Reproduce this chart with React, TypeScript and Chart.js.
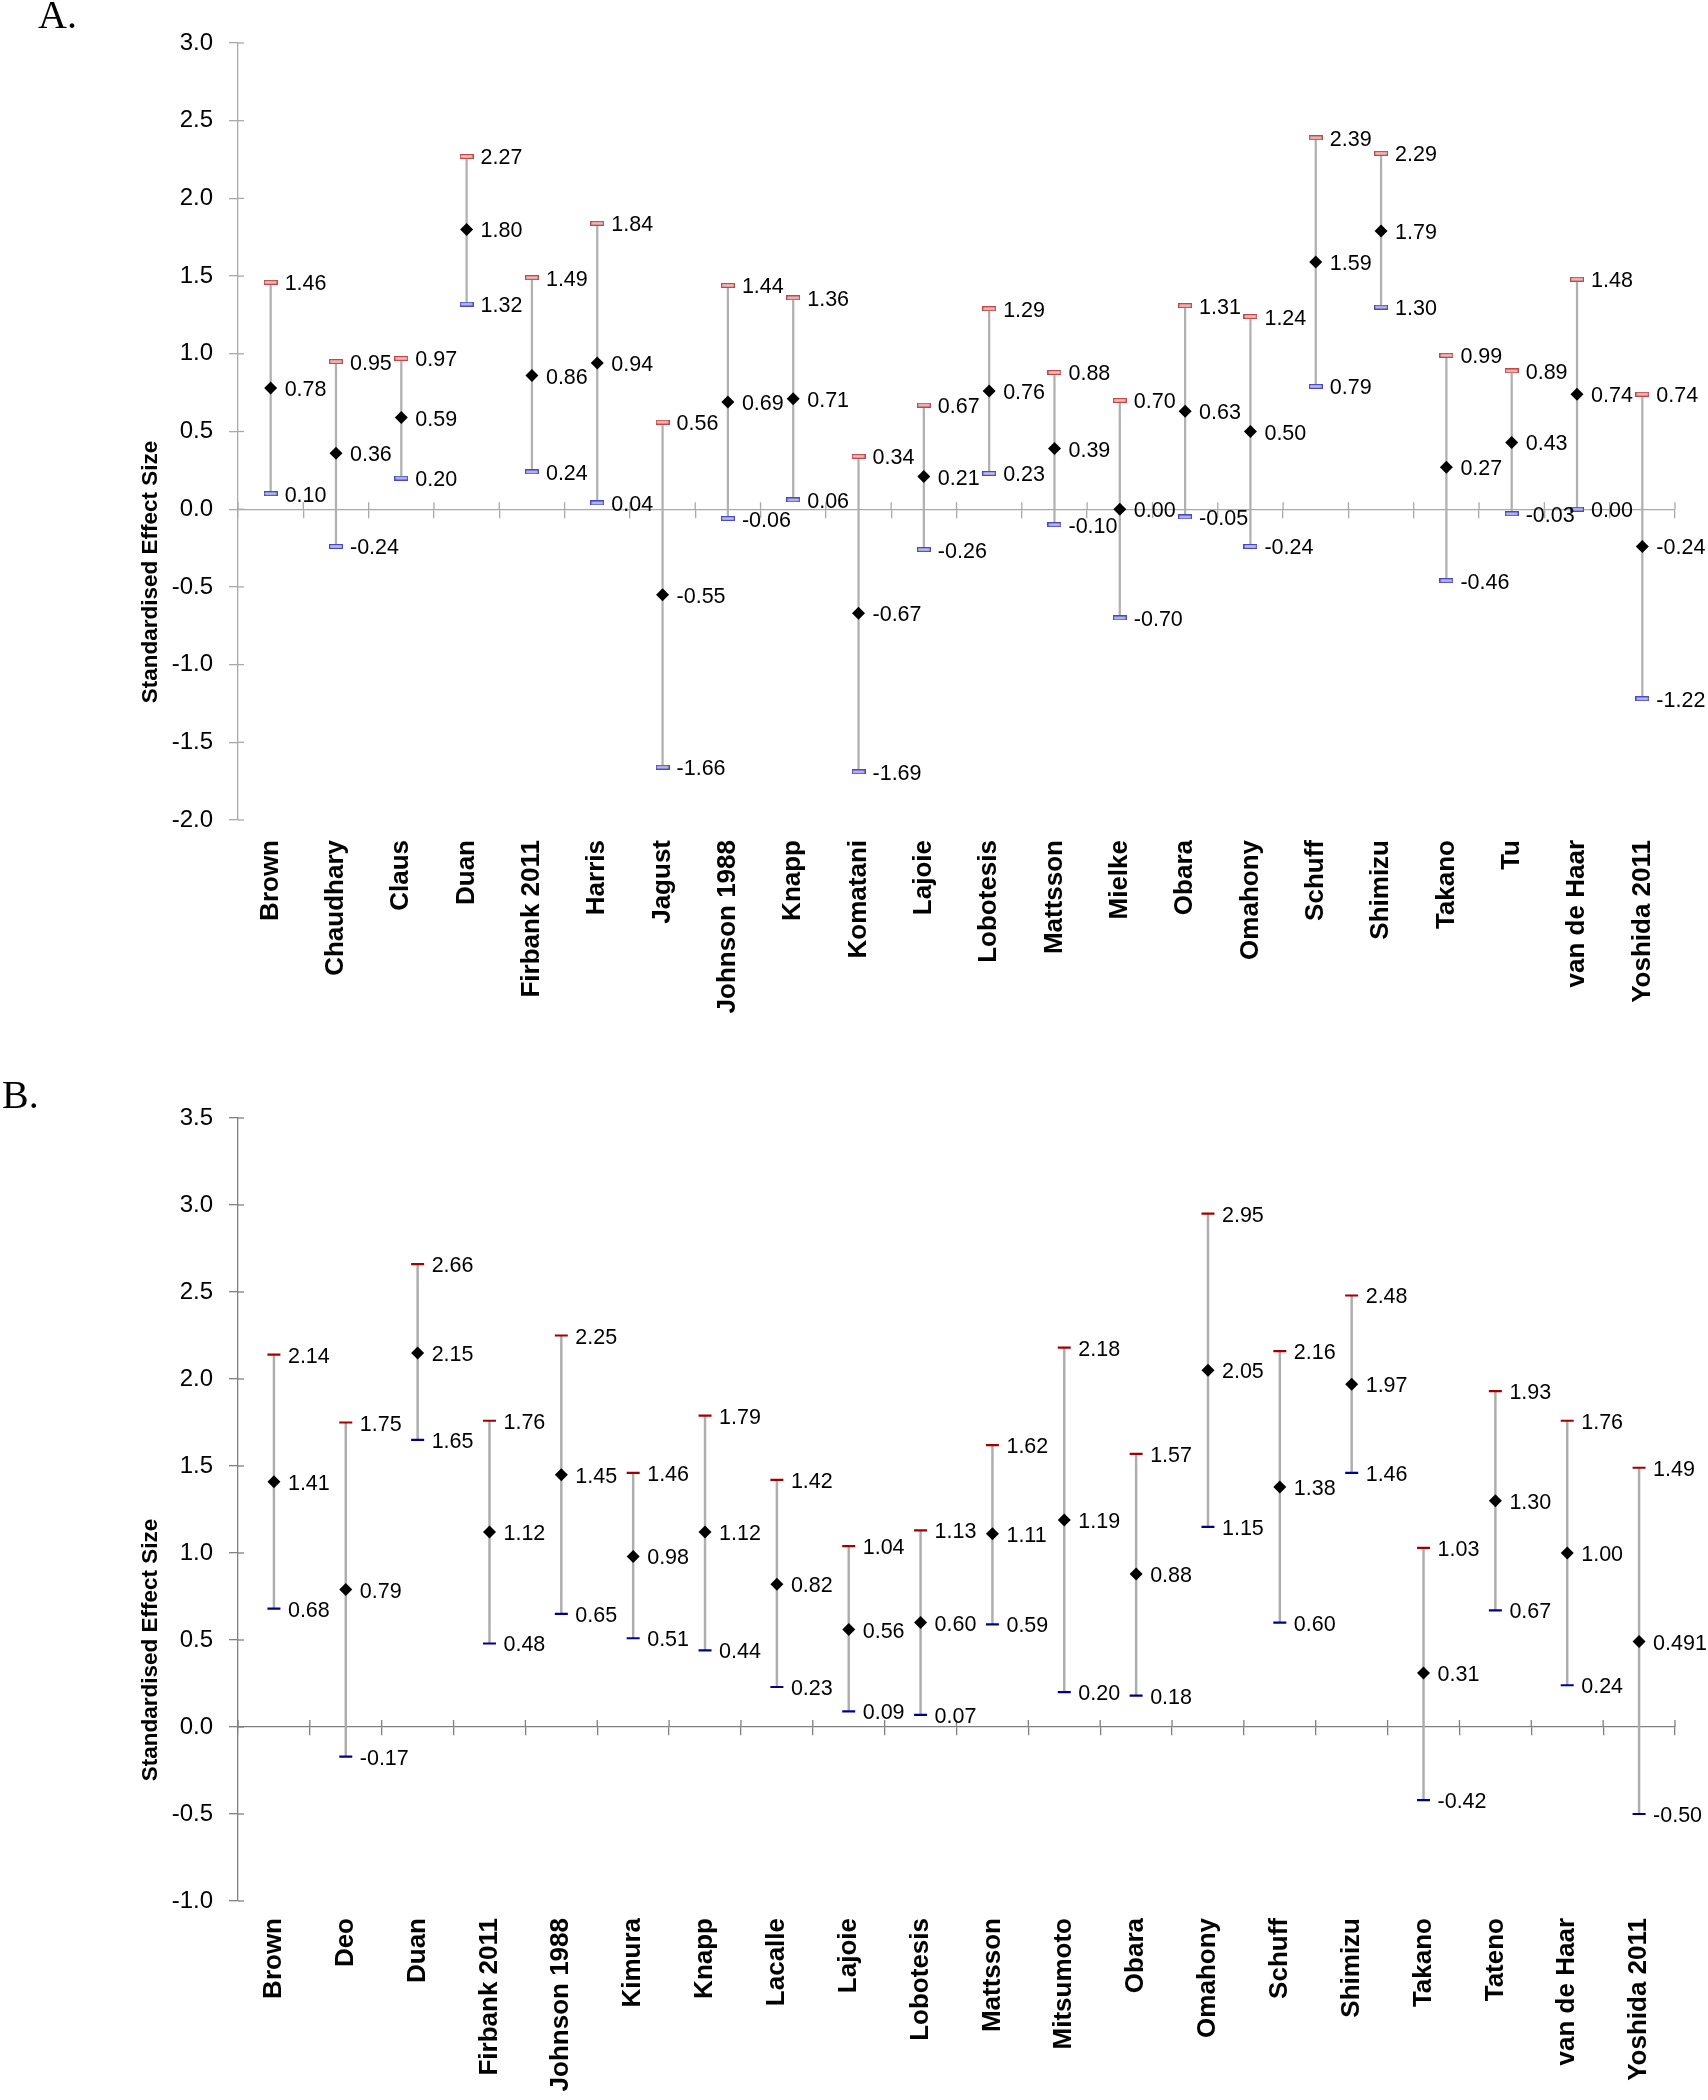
import React, { useEffect, useRef } from 'react';
import { Chart, registerables } from 'chart.js';

Chart.register(...registerables);

// ---------- Data: panel A ----------
const studiesA = ['Brown', 'Chaudhary', 'Claus', 'Duan', 'Firbank 2011', 'Harris', 'Jagust', 'Johnson 1988', 'Knapp', 'Komatani', 'Lajoie', 'Lobotesis', 'Mattsson', 'Mielke', 'Obara', 'Omahony', 'Schuff', 'Shimizu', 'Takano', 'Tu', 'van de Haar', 'Yoshida 2011'];
const upperA = [1.46, 0.95, 0.97, 2.27, 1.49, 1.84, 0.56, 1.44, 1.36, 0.34, 0.67, 1.29, 0.88, 0.70, 1.31, 1.24, 2.39, 2.29, 0.99, 0.89, 1.48, 0.74];
const meanA = [0.78, 0.36, 0.59, 1.80, 0.86, 0.94, -0.55, 0.69, 0.71, -0.67, 0.21, 0.76, 0.39, 0.00, 0.63, 0.50, 1.59, 1.79, 0.27, 0.43, 0.74, -0.24];
const lowerA = [0.10, -0.24, 0.20, 1.32, 0.24, 0.04, -1.66, -0.06, 0.06, -1.69, -0.26, 0.23, -0.10, -0.70, -0.05, -0.24, 0.79, 1.30, -0.46, -0.03, 0.00, -1.22];
const yRangeA = [-2.0, 3.0];

// ---------- Data: panel B ----------
const studiesB = ['Brown', 'Deo', 'Duan', 'Firbank 2011', 'Johnson 1988', 'Kimura', 'Knapp', 'Lacalle', 'Lajoie', 'Lobotesis', 'Mattsson', 'Mitsumoto', 'Obara', 'Omahony', 'Schuff', 'Shimizu', 'Takano', 'Tateno', 'van de Haar', 'Yoshida 2011'];
const upperB = [2.14, 1.75, 2.66, 1.76, 2.25, 1.46, 1.79, 1.42, 1.04, 1.13, 1.62, 2.18, 1.57, 2.95, 2.16, 2.48, 1.03, 1.93, 1.76, 1.49];
const meanB = [1.41, 0.79, 2.15, 1.12, 1.45, 0.98, 1.12, 0.82, 0.56, 0.60, 1.11, 1.19, 0.88, 2.05, 1.38, 1.97, 0.31, 1.30, 1.00, 0.491];
const lowerB = [0.68, -0.17, 1.65, 0.48, 0.65, 0.51, 0.44, 0.23, 0.09, 0.07, 0.59, 0.20, 0.18, 1.15, 0.60, 1.46, -0.42, 0.67, 0.24, -0.50];
const yRangeB = [-1.0, 3.5];

const yStep = 0.5;
const yTitle = 'Standardised Effect Size';

const SANS = "'Liberation Sans', Arial, Helvetica, sans-serif";

function fmt(v: number): string {
  const s = v.toFixed(2);
  return Math.abs(Number(s) - v) < 1e-9 ? s : String(v);
}

function makeBoxMarker(stroke: string, fill: string): HTMLCanvasElement {
  const c = document.createElement('canvas');
  c.width = 14;
  c.height = 5;
  const g = c.getContext('2d')!;
  g.fillStyle = fill;
  g.fillRect(0, 0, 14, 5);
  g.strokeStyle = stroke;
  g.lineWidth = 1.2;
  g.strokeRect(0.6, 0.6, 12.8, 3.8);
  return c;
}

const extrasPlugin = {
  id: 'extras',
  beforeDatasetsDraw(chart: any, _args: any, opts: any) {
    const ctx = chart.ctx;
    const area = chart.chartArea;
    const ys = chart.scales.y;
    const xs = chart.scales.x;
    ctx.save();
    ctx.strokeStyle = opts.axisColor;
    ctx.lineWidth = 1.3;
    // y ticks crossing to the right of the axis
    ys.ticks.forEach((t: any) => {
      const py = ys.getPixelForValue(t.value);
      ctx.beginPath();
      ctx.moveTo(area.left, py);
      ctx.lineTo(area.left + 6, py);
      ctx.stroke();
    });
    // category boundary ticks crossing above the zero line
    const zy = ys.getPixelForValue(0);
    const n = chart.data.labels.length;
    for (let i = 0; i <= n; i++) {
      const px = xs.getPixelForValue(i - 0.5);
      ctx.beginPath();
      ctx.moveTo(px, zy);
      ctx.lineTo(px, zy - 7);
      ctx.stroke();
    }
    ctx.restore();
  },
  afterDatasetsDraw(chart: any, _args: any, opts: any) {
    const ctx = chart.ctx;
    ctx.save();
    ctx.fillStyle = '#000';
    ctx.font = `21.5px ${SANS}`;
    ctx.textAlign = 'left';
    ctx.textBaseline = 'alphabetic';
    chart.data.datasets.forEach((ds: any, di: number) => {
      if (!ds.valueLabels) return;
      const meta = chart.getDatasetMeta(di);
      meta.data.forEach((el: any, i: number) => {
        ctx.fillText(fmt(ds.data[i]), el.x + 14, el.y + 8);
      });
    });
    // y axis title
    ctx.translate(opts.titleX, opts.titleY);
    ctx.rotate(-Math.PI / 2);
    ctx.font = `bold 22.5px ${SANS}`;
    ctx.textAlign = 'center';
    ctx.textBaseline = 'middle';
    ctx.fillText(yTitle, 0, 0);
    ctx.restore();
  },
};

interface PanelProps {
  labels: string[];
  upper: number[];
  mean: number[];
  lower: number[];
  yRange: number[];
  width: number;
  height: number;
  padTop: number;
  xAxisH: number;
  xPad: number;
  axisColor: string;
  ciColor: string;
  ciWidth: number;
  boxMarkers: boolean;
  titleY: number;
}

function Panel(p: PanelProps) {
  const ref = useRef<HTMLCanvasElement | null>(null);
  useEffect(() => {
    if (!ref.current) return;
    const upStyle: any = p.boxMarkers ? makeBoxMarker('#c04848', '#efbcbc') : 'line';
    const loStyle: any = p.boxMarkers ? makeBoxMarker('#4848c0', '#bcbcef') : 'line';
    const chart = new Chart(ref.current, {
      type: 'bar',
      data: {
        labels: p.labels,
        datasets: [
          {
            type: 'line',
            label: 'Effect size',
            data: p.mean,
            xAxisID: 'x',
            yAxisID: 'y',
            showLine: false,
            pointStyle: 'rectRot',
            pointRadius: 6.5,
            pointBackgroundColor: '#000',
            pointBorderColor: '#000',
            pointBorderWidth: 0,
            order: 0,
            valueLabels: true,
          } as any,
          {
            type: 'line',
            label: 'Upper CI',
            data: p.upper,
            xAxisID: 'x',
            yAxisID: 'y',
            showLine: false,
            pointStyle: upStyle,
            pointRadius: 6.5,
            pointBackgroundColor: '#a00000',
            pointBorderColor: '#a00000',
            pointBorderWidth: 2.2,
            order: 1,
            valueLabels: true,
          } as any,
          {
            type: 'line',
            label: 'Lower CI',
            data: p.lower,
            xAxisID: 'x',
            yAxisID: 'y',
            showLine: false,
            pointStyle: loStyle,
            pointRadius: 6.5,
            pointBackgroundColor: '#000090',
            pointBorderColor: '#000090',
            pointBorderWidth: 2.2,
            order: 1,
            valueLabels: true,
          } as any,
          {
            type: 'bar',
            label: 'CI',
            data: p.upper.map((u, i) => [p.lower[i], u]) as any,
            xAxisID: 'x',
            yAxisID: 'y',
            backgroundColor: p.ciColor,
            barThickness: p.ciWidth,
            borderWidth: 0,
            order: 5,
          } as any,
        ],
      },
      options: {
        responsive: false,
        animation: false,
        layout: { padding: { top: p.padTop, right: 33, left: 0, bottom: 0 } },
        plugins: {
          legend: { display: false },
          tooltip: { enabled: false },
          extras: { axisColor: p.axisColor, titleX: 151, titleY: p.titleY },
        } as any,
        scales: {
          x: {
            type: 'category',
            offset: true,
            grid: { display: false },
            border: { display: false },
            ticks: {
              autoSkip: false,
              maxRotation: 90,
              minRotation: 90,
              padding: p.xPad,
              color: '#000',
              font: { family: SANS, size: 26, weight: 'bold' },
            },
            afterFit: (s: any) => {
              s.height = p.xAxisH;
            },
          },
          x0: {
            type: 'category',
            axis: 'x',
            position: { y: 0 },
            offset: true,
            grid: {
              display: true,
              drawOnChartArea: false,
              drawTicks: true,
              tickLength: 8,
              offset: true,
              color: p.axisColor,
              lineWidth: 1.3,
            },
            border: { display: true, color: p.axisColor, width: 1.3 },
            ticks: { display: false },
          } as any,
          y: {
            type: 'linear',
            min: p.yRange[0],
            max: p.yRange[1],
            ticks: {
              stepSize: yStep,
              padding: 16,
              color: '#000',
              font: { family: SANS, size: 24 },
              callback: (v: any) => Number(v).toFixed(1),
            },
            grid: {
              display: true,
              drawOnChartArea: false,
              drawTicks: true,
              tickLength: 9,
              color: p.axisColor,
              lineWidth: 1.3,
            },
            border: { display: true, color: p.axisColor, width: 1.3 },
            afterFit: (s: any) => {
              s.width = 238;
            },
          },
        },
      },
      plugins: [extrasPlugin as any],
    });
    return () => chart.destroy();
  }, []);
  return (
    <canvas
      ref={ref}
      width={p.width}
      height={p.height}
      style={{ display: 'block', width: p.width, height: p.height }}
    />
  );
}

const panelLetter: React.CSSProperties = {
  position: 'absolute',
  fontFamily: "'Liberation Serif', 'Times New Roman', serif",
  fontSize: 40,
  lineHeight: '40px',
  color: '#000',
  whiteSpace: 'nowrap',
};

export default function App() {
  return (
    <div style={{ position: 'absolute', left: 0, top: 0, width: 1708, height: 2100, background: '#fff', overflow: 'hidden' }}>
      <div style={{ position: 'absolute', left: 0, top: 0 }}>
        <Panel
          labels={studiesA}
          upper={upperA}
          mean={meanA}
          lower={lowerA}
          yRange={yRangeA}
          width={1708}
          height={1040}
          padTop={43}
          xAxisH={220}
          xPad={12}
          axisColor="#a9a9a9"
          ciColor="#b0b0b0"
          ciWidth={1.6}
          boxMarkers={true}
          titleY={572}
        />
      </div>
      <div style={{ position: 'absolute', left: 0, top: 1040 }}>
        <Panel
          labels={studiesB}
          upper={upperB}
          mean={meanB}
          lower={lowerB}
          yRange={yRangeB}
          width={1708}
          height={1060}
          padTop={78}
          xAxisH={199}
          xPad={9}
          axisColor="#808080"
          ciColor="#adadad"
          ciWidth={1.8}
          boxMarkers={false}
          titleY={610}
        />
      </div>
      <div style={{ ...panelLetter, left: 38, top: -5.5 }}>A.</div>
      <div style={{ ...panelLetter, left: 2, top: 1074.5 }}>B.</div>
    </div>
  );
}
